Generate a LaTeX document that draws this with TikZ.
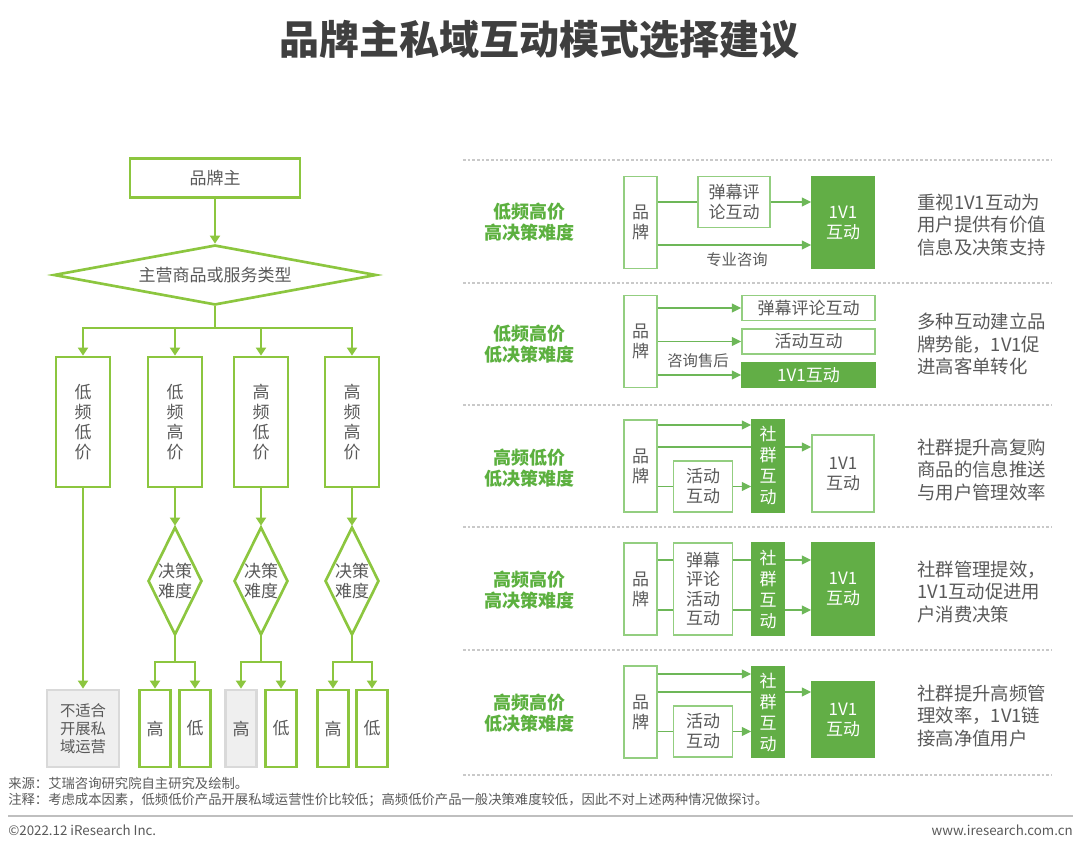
\documentclass[tikz,border=0pt]{standalone}
\usepackage{fontspec}
\setmainfont{Noto Sans CJK SC}
\usetikzlibrary{arrows.meta,shapes.geometric,calc}

\definecolor{lime}{HTML}{8CC63F}
\definecolor{leaf}{HTML}{62AE46}
\definecolor{pale}{HTML}{93CE80}
\definecolor{wire}{HTML}{6DB758}
\definecolor{ink}{HTML}{595959}
\definecolor{heading}{HTML}{3F3F3F}
\definecolor{sepline}{HTML}{C9C9C9}
\definecolor{footline}{HTML}{BFBFBF}
\definecolor{boxgrey}{HTML}{EFEFEF}
\definecolor{edgegrey}{HTML}{D9D9D9}
\definecolor{tag}{HTML}{5CB03F}

\newcommand\sz[2]{\fontsize{#1}{#2}\selectfont}

\tikzset{
  txt/.style={text=ink, font=\sz{12.75pt}{15pt}, align=center, inner sep=0pt},
  ownerbox/.style={txt, draw=lime, line width=2pt, minimum width=127.5pt, minimum height=29.25pt},
  askbox/.style={txt, diamond, draw=lime, line width=2pt, shape aspect=5.4, minimum width=242pt, minimum height=45pt},
  catbox/.style={txt, draw=lime, line width=2pt, minimum width=40.5pt, minimum height=97.5pt},
  decide/.style={txt, diamond, draw=lime, line width=2pt, shape aspect=0.5, minimum width=40.5pt, minimum height=81pt},
  smallbox/.style={txt, draw=lime, line width=2pt, minimum width=23.25pt, minimum height=57.75pt},
  greybox/.style={txt, draw=edgegrey, fill=boxgrey, line width=2pt, minimum width=23.25pt, minimum height=57.75pt},
  nofit/.style={txt, font=\sz{11.5pt}{13.5pt}, draw=edgegrey, fill=boxgrey, line width=2pt, minimum width=54pt, minimum height=57.75pt},
  flow/.style={draw=lime, line width=2pt, -{Triangle[length=6pt,width=7.5pt]}},
  flowline/.style={draw=lime, line width=2pt},
  linebox/.style={txt, draw=pale, line width=1.1pt, fill=white},
  leafbox/.style={txt, draw=leaf, fill=leaf, text=white, line width=1.1pt},
  link/.style={draw=wire, line width=1.2pt},
  linkarr/.style={link, -{Triangle[length=7pt,width=6.5pt]}},
  tagtxt/.style={text=tag, font=\bfseries\sz{13.5pt}{15.75pt}, align=center, inner sep=0pt},
  notetxt/.style={text=ink, font=\sz{13.8pt}{16.9pt}, align=left, anchor=west, inner sep=0pt},
  foot/.style={text=ink, font=\sz{10pt}{12pt}, inner sep=0pt},
  rowrule/.style={draw=sepline, line width=0.8pt, dash pattern=on 2pt off 1.5pt},
  footrule/.style={draw=footline, line width=1.5pt}
}

\begin{document}
\begin{tikzpicture}[x=0.75pt,y=-0.75pt]
\useasboundingbox (0,0) rectangle (1080,848);
\node[font=\bfseries\sz{30pt}{36pt}, text=heading] (title) at (539,40) {品牌主私域互动模式选择建议};

% left: decision flow
\node[ownerbox] (owner) at (215,178) {品牌主};
\node[askbox] (ask) at (215,275) {主营商品或服务类型};
\draw[flow] (owner) -- (ask);
\coordinate (split) at (215,328);
\draw[flowline] (ask.south) -- (split);
\foreach \i/\x/\t in {1/83/{低\\频\\低\\价},2/175/{低\\频\\高\\价},3/261/{高\\频\\低\\价},4/352/{高\\频\\高\\价}} {
  \node[catbox] (cat\i) at (\x,422) {\t};
  \draw[flow] (split) -| (cat\i.north);
}
\node[nofit] (skip) at (83,728.5) {不适合\\开展私\\域运营};
\draw[flow] (cat1) -- (skip);
\foreach \i/\x/\h/\l/\s in {2/175/155/195/smallbox,3/261/241/281/greybox,4/352/333/372/smallbox} {
  \node[decide] (dec\i) at (\x,581) {决策\\难度};
  \draw[flow] (cat\i) -- (dec\i);
  \coordinate (fork\i) at (\x,662);
  \draw[flowline] (dec\i.south) -- (fork\i);
  \node[\s] (hi\i) at (\h,728.5) {高};
  \node[smallbox] (lo\i) at (\l,728.5) {低};
  \draw[flow] (fork\i) -| (hi\i.north);
  \draw[flow] (fork\i) -| (lo\i.north);
}

% right: interaction modes
\foreach \y in {160,283,405,527,650,775} { \draw[rowrule] (463,\y) -- (1052,\y); }
\foreach \n/\y/\t in {1/222/{低频高价\\高决策难度},2/344/{低频高价\\低决策难度},3/468/{高频低价\\低决策难度},4/590/{高频高价\\高决策难度},5/713/{高频高价\\低决策难度}} {
  \node[tagtxt] (tag\n) at (529,\y) {\t};
}
\foreach \n/\y/\t in {1/225/{重视1V1互动为\\用户提供有价值\\信息及决策支持},2/344/{多种互动建立品\\牌势能，1V1促\\进高客单转化},3/470/{社群提升高复购\\商品的信息推送\\与用户管理效率},4/592/{社群管理提效，\\1V1互动促进用\\户消费决策},5/716/{社群提升高频管\\理效率，1V1链\\接高净值用户}} {
  \node[notetxt] (note\n) at (917,\y) {\t};
}
\foreach \n/\y in {1/222.5,2/341.5,3/466,4/589,5/712} {
  \node[linebox, minimum width=24.75pt, minimum height=69pt] (brand\n) at (640.5,\y) {品\\牌};
}

% row 1
\node[linebox, minimum width=54pt, minimum height=38.25pt] (dm1) at (734,202) {弹幕评\\论互动};
\node[leafbox, minimum width=46.5pt, minimum height=69pt] (vip1) at (843,222.5) {1V1\\互动};
\draw[link] (brand1.east |- dm1.west) -- (dm1.west);
\draw[linkarr] (dm1.east) -- (vip1.west |- dm1.east);
\coordinate (consult1) at ($(brand1.east)+(0,22.5)$);
\draw[linkarr] (consult1) -- (vip1.west |- consult1);
\node[txt, font=\sz{11.5pt}{14pt}] (consultlbl1) at (737,260) {专业咨询};

% row 2
\node[linebox, minimum width=99.75pt, minimum height=18.75pt] (dm2) at (808.5,308) {弹幕评论互动};
\node[linebox, minimum width=99.75pt, minimum height=18.75pt] (act2) at (808.5,341.5) {活动互动};
\node[leafbox, minimum width=99.75pt, minimum height=18.75pt] (vip2) at (808.5,375) {1V1互动};
\foreach \b in {dm2,act2,vip2} { \draw[linkarr] (brand2.east |- \b.west) -- (\b.west); }
\node[txt, font=\sz{11.5pt}{14pt}] (afterlbl2) at (698,361) {咨询售后};

% row 3
\node[linebox, minimum width=44.25pt, minimum height=38.25pt] (act3) at (703,486.5) {活动\\互动};
\node[leafbox, font=\sz{12.75pt}{15.75pt}, minimum width=24pt, minimum height=69pt] (grp3) at (768,466) {社\\群\\互\\动};
\node[linebox, minimum width=46.5pt, minimum height=57.75pt] (vip3) at (843,473.5) {1V1\\互动};
\coordinate (top3) at ($(brand3.east)+(0,-41)$);
\coordinate (mid3) at ($(brand3.east)+(0,-19)$);
\draw[linkarr] (top3) -- (grp3.west |- top3);
\draw[link] (mid3) -- (grp3.west |- mid3);
\draw[linkarr] (grp3.east |- mid3) -- (vip3.west |- mid3);
\draw[link] (brand3.east |- act3.west) -- (act3.west);
\draw[linkarr] (act3.east) -- (grp3.west |- act3.east);

% row 4
\node[linebox, font=\sz{12.75pt}{14.6pt}, minimum width=44.25pt, minimum height=69pt] (mix4) at (703,589) {弹幕\\评论\\活动\\互动};
\node[leafbox, font=\sz{12.75pt}{15.75pt}, minimum width=24pt, minimum height=69pt] (grp4) at (768,589) {社\\群\\互\\动};
\node[leafbox, minimum width=46.5pt, minimum height=69pt] (vip4) at (843,589) {1V1\\互动};
\foreach \d/\k in {-29/a,21/b} {
  \coordinate (p4\k) at ($(brand4.east)+(0,\d)$);
  \draw[link] (p4\k) -- (mix4.west |- p4\k);
  \draw[link] (mix4.east |- p4\k) -- (grp4.west |- p4\k);
  \draw[linkarr] (grp4.east |- p4\k) -- (vip4.west |- p4\k);
}

% row 5
\node[linebox, minimum width=44.25pt, minimum height=38.25pt] (act5) at (703,731.5) {活动\\互动};
\node[leafbox, font=\sz{12.75pt}{15.75pt}, minimum width=24pt, minimum height=67.5pt] (grp5) at (768,712) {社\\群\\互\\动};
\node[leafbox, minimum width=46.5pt, minimum height=56.25pt] (vip5) at (843,719.5) {1V1\\互动};
\coordinate (top5) at ($(brand5.east)+(0,-38)$);
\coordinate (mid5) at ($(brand5.east)+(0,-20)$);
\draw[linkarr] (top5) -- (grp5.west |- top5);
\draw[link] (mid5) -- (grp5.west |- mid5);
\draw[linkarr] (grp5.east |- mid5) -- (vip5.west |- mid5);
\draw[link] (brand5.east |- act5.west) -- (act5.west);
\draw[linkarr] (act5.east) -- (grp5.west |- act5.east);

% footer
\node[foot, anchor=west] (src) at (8,783) {来源：艾瑞咨询研究院自主研究及绘制。};
\node[foot, anchor=west] (memo) at (8,800) {注释：考虑成本因素，低频低价产品开展私域运营性价比较低；高频低价产品一般决策难度较低，因此不对上述两种情况做探讨。};
\draw[footrule] (8,816) -- (1073,816);
\node[foot, anchor=west] (copy) at (8,830) {©2022.12 iResearch Inc.};
\node[foot, anchor=east] (site) at (1073,830) {www.iresearch.com.cn};
\end{tikzpicture}
\end{document}
